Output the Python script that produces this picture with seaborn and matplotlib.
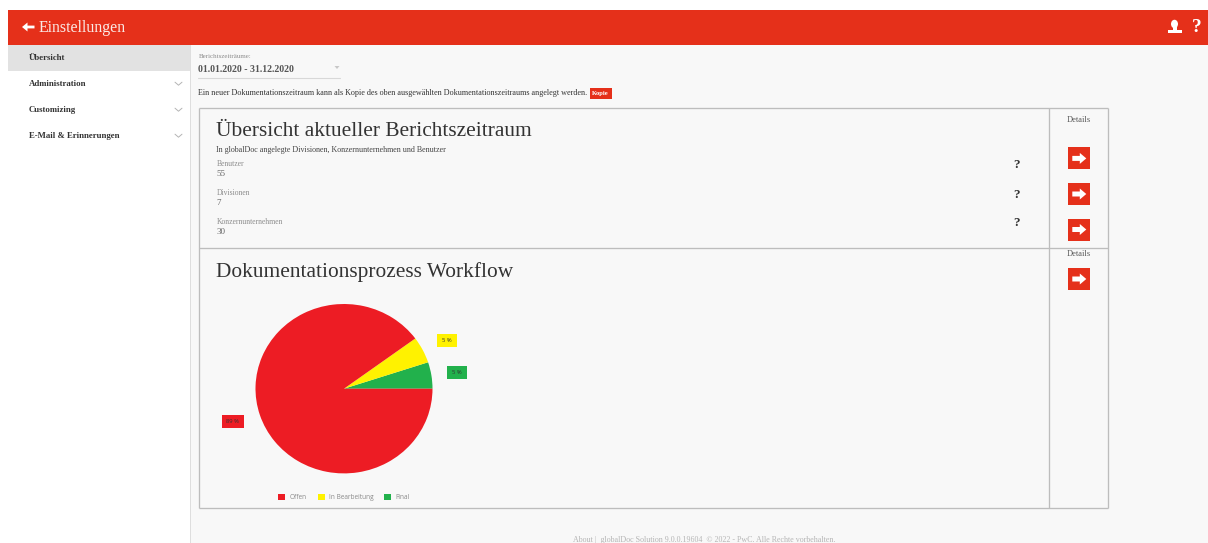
import matplotlib
matplotlib.use("Agg")
import matplotlib.pyplot as plt
from matplotlib.patches import Rectangle, FancyArrow, Ellipse
import seaborn as sns

# Workflow status shares, in percent
status_labels = ["Final", "In Bearbeitung", "Offen"]
status_values = [5, 5, 89]
status_colors = ["#22b14c", "#fff200", "#ed1c24"]
legend_order = [2, 1, 0]

menu_items = ["Übersicht", "Administration", "Customizing", "E-Mail & Erinnerungen"]
kpi_names = ["Benutzer", "Divisionen", "Konzernunternehmen"]
kpi_values = ["55", "7", "30"]

W, H = 1208, 543
RED = "#e5301a"
SERIF = ["Liberation Serif", "DejaVu Serif"]
SANS = ["Open Sans", "DejaVu Sans"]

sns.set_theme(style="white")
plt.rcParams["font.family"] = SERIF

fig = plt.figure(figsize=(W / 100, H / 100), dpi=100, facecolor="#f8f8f8")
page = fig.add_axes([0, 0, 1, 1])
page.set_xlim(0, W)
page.set_ylim(H, 0)
page.axis("off")


def box(x, y, w, h, color, z=1):
    page.add_patch(Rectangle((x, y), w, h, facecolor=color, edgecolor="none", zorder=z))


def label(x, y, s, size=6, color="#333333", weight="normal", ha="left"):
    page.text(x, y, s, fontsize=size, color=color, fontweight=weight, ha=ha, va="center", zorder=6)


def arrow(x, y, length, width=5.0, head=11, head_len=6.5):
    page.add_patch(FancyArrow(x, y, length, 0, width=width, head_width=head, head_length=head_len,
                              length_includes_head=True, color="white", lw=0, zorder=6))


# Outer margin and top bar
box(0, 0, W, 10, "white", 2)
box(0, 0, 8, H, "white", 2)
box(8, 10, W - 8, 35, RED, 3)
arrow(34.5, 27, -12.5, width=2.8, head=9, head_len=5.5)
label(39, 28, "Einstellungen", 11.4, "#fbe9e5")
label(1196.7, 27.5, "?", 14, "white", "bold", "center")

# User icon
page.add_patch(Ellipse((1174.5, 24), 7, 8.5, color="white", lw=0, zorder=6))
box(1172.5, 26, 4, 4, "white", 6)
box(1167.5, 29.5, 14, 3.3, "white", 6)

# Side menu
box(8, 45, 182, 498, "white", 2)
box(189.5, 45, 1.2, 498, "#dedede", 3)
box(8, 45, 182, 26, "#e2e2e2", 3)
for i, item in enumerate(menu_items):
    y = 57.5 + 26 * i
    label(29, y, item, 6.3, "#333333", "bold")
    if i:
        page.plot([175, 178.5, 182], [y - 1.3, y + 1.7, y - 1.3], color="#b4b4b4", lw=0.7, zorder=6)

# Period selector and copy note
label(198.5, 56, "Berichtszeiträume:", 5, "#8c8c8c")
label(198.5, 69.5, "01.01.2020 - 31.12.2020", 7.1, "#555555", "bold")
page.fill([334.5, 339.5, 337], [66, 66, 69], color="#c8c8c8", lw=0, zorder=6)
page.plot([198, 340], [77.5, 77.5], color="#d8d8d8", lw=0.8, zorder=6)
label(198.5, 93, "Ein neuer Dokumentationszeitraum kann als Kopie des oben ausgewählten "
                 "Dokumentationszeitraums angelegt werden.", 5.85, "#333333")
box(589.5, 88, 22, 11.2, RED, 5)
label(600.5, 93.5, "Kopie", 4.7, "white", "bold", "center")

# Panels
edge = "#bdbdbd"
for x0, y0, x1, y1 in [(198.7, 108, 1108.3, 108), (198.7, 247.8, 1108.3, 247.8), (198.7, 508, 1108.3, 508),
                       (198.7, 108, 198.7, 508), (1049.2, 108, 1049.2, 508), (1108.3, 108, 1108.3, 508)]:
    page.plot([x0, x1], [y0, y1], color=edge, lw=0.95, zorder=4, solid_capstyle="butt")

label(216.5, 131, "Übersicht aktueller Berichtszeitraum", 15.4, "#333333")
label(216.5, 149.5, "In globalDoc angelegte Divisionen, Konzernunternehmen und Benutzer", 5.8, "#444444")
for i, (name, val) in enumerate(zip(kpi_names, kpi_values)):
    y = 163.5 + 29.2 * i
    label(216.5, y, name, 5.5, "#8c8c8c")
    label(216.5, y + 10, val, 6.5, "#666666")
    label(1016, 165.5 + 29 * i, "?", 9.5, "#333333", "bold", "center")

label(1079, 120, "Details", 6, "#555555", ha="center")
label(1079, 254, "Details", 6, "#555555", ha="center")
for yc in [158.4, 194, 229.5, 279]:
    box(1067.7, yc - 11, 22.6, 22, RED, 5)
    arrow(1072.3, yc, 14)

label(216.5, 272, "Dokumentationsprozess Workflow", 15.4, "#333333")

# Workflow pie chart; the plot box is slightly wider than tall
cx, cy, rx, ry = 344, 388.7, 88.5, 84.7
pie_ax = fig.add_axes([(cx - rx) / W, 1 - (cy + ry) / H, 2 * rx / W, 2 * ry / H])
pie_ax.pie(status_values, colors=sns.color_palette(status_colors), startangle=0, counterclock=True,
           radius=1.0, wedgeprops={"linewidth": 0})
pie_ax.set_aspect("auto")
pie_ax.set_xlim(-1, 1)
pie_ax.set_ylim(-1, 1)

# Callout tags next to each slice
tags = [(457.1, 372.2, 19.7, 13), (447, 340.3, 19.4, 12.7), (232.8, 421.3, 22.3, 12.7)]
for (tx, ty, tw, th), value, color in zip(tags, status_values, status_colors):
    box(tx - tw / 2, ty - th / 2, tw, th, color, 5)
    page.text(tx, ty, f"{value} %", fontsize=4.2, color="#333333", ha="center", va="center", zorder=6,
              family=SANS)

# Legend row
legend_x = [278, 317.7, 384]
for x, idx in zip(legend_x, legend_order):
    box(x, 494, 7.4, 6.3, status_colors[idx], 5)
    page.text(x + 11.2, 497.2, status_labels[idx], fontsize=4.7, color="#8a8a8a", va="center", zorder=6,
              family=SANS)

label(704, 539.7, "About |  globalDoc Solution 9.0.0.19604  © 2022 - PwC. Alle Rechte vorbehalten.",
      5.75, "#b5b5b5", ha="center")

fig.savefig("out.png", dpi=100, facecolor=fig.get_facecolor())
